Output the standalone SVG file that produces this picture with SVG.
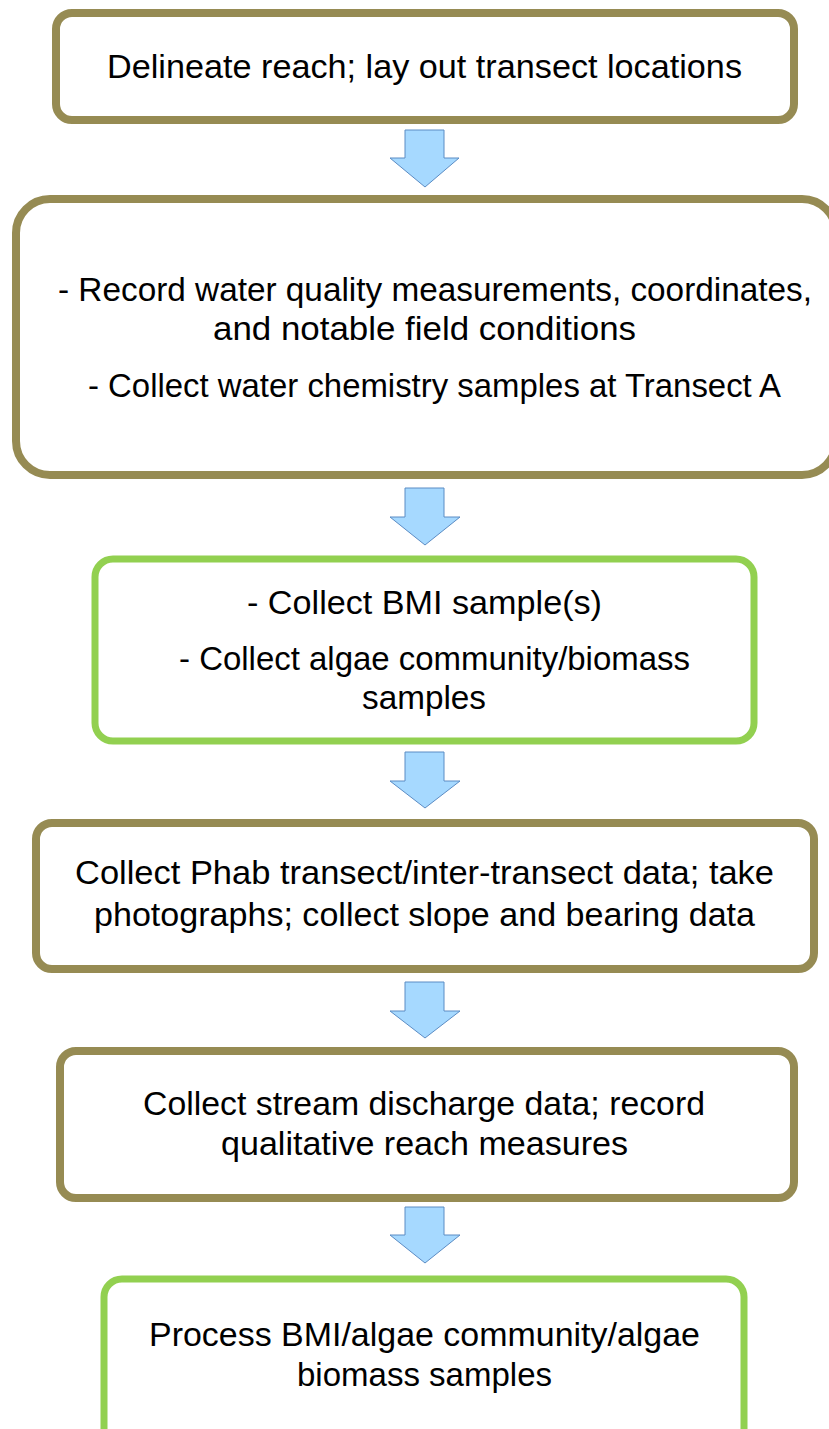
<svg xmlns="http://www.w3.org/2000/svg" width="829" height="1429" viewBox="0 0 829 1429">
  <style>
    .olive { fill: #ffffff; stroke: #968b53; stroke-width: 8; }
    .green { fill: #ffffff; stroke: #92d050; stroke-width: 7; }
    .arrow { fill: #a6d9ff; stroke: #5b8cc4; stroke-width: 1; }
    text { font-family: "Liberation Sans", Arial, sans-serif; font-size: 34px; fill: #000000; text-anchor: middle; }
  </style>
  <rect width="829" height="1429" fill="#ffffff"/>

  <g id="connectors">
    <path class="arrow" d="M405,130 H444 V158 H459 L425,187 L390,158 H405 Z"/>
    <path class="arrow" d="M405,488 H444 V517 H460 L425,545 L390,517 H405 Z"/>
    <path class="arrow" d="M405,752 H444 V781 H460 L425,808 L390,781 H405 Z"/>
    <path class="arrow" d="M405,982 H444 V1011 H460 L425,1038 L390,1011 H405 Z"/>
    <path class="arrow" d="M405,1207 H444 V1235 H460 L425,1263 L390,1235 H405 Z"/>
  </g>

  <g id="node1">
    <rect class="olive" x="56" y="13" width="738" height="107" rx="16"/>
    <text x="424.5" y="78" textLength="635" lengthAdjust="spacingAndGlyphs">Delineate reach; lay out transect locations</text>
  </g>

  <g id="node2">
    <rect class="olive" x="16" y="199" width="820" height="276" rx="34"/>
    <text x="435" y="301" textLength="754" lengthAdjust="spacingAndGlyphs">- Record water quality measurements, coordinates,</text>
    <text x="424.5" y="340" textLength="423" lengthAdjust="spacingAndGlyphs">and notable field conditions</text>
    <text x="434.5" y="397" textLength="693" lengthAdjust="spacingAndGlyphs">- Collect water chemistry samples at Transect A</text>
  </g>

  <g id="node3">
    <rect class="green" x="95" y="559" width="659" height="182" rx="18"/>
    <text x="424.5" y="614" textLength="355" lengthAdjust="spacingAndGlyphs">- Collect BMI sample(s)</text>
    <text x="434.5" y="670" textLength="511" lengthAdjust="spacingAndGlyphs">- Collect algae community/biomass</text>
    <text x="424" y="709" textLength="124" lengthAdjust="spacingAndGlyphs">samples</text>
  </g>

  <g id="node4">
    <rect class="olive" x="36" y="823" width="778" height="146" rx="16"/>
    <text x="424.5" y="884" textLength="699" lengthAdjust="spacingAndGlyphs">Collect Phab transect/inter-transect data; take</text>
    <text x="424.5" y="926" textLength="661" lengthAdjust="spacingAndGlyphs">photographs; collect slope and bearing data</text>
  </g>

  <g id="node5">
    <rect class="olive" x="60" y="1051" width="734" height="147" rx="16"/>
    <text x="424" y="1115" textLength="562" lengthAdjust="spacingAndGlyphs">Collect stream discharge data; record</text>
    <text x="424.5" y="1155" textLength="407" lengthAdjust="spacingAndGlyphs">qualitative reach measures</text>
  </g>

  <g id="node6">
    <rect class="green" x="104" y="1279" width="640" height="170" rx="18"/>
    <text x="424.5" y="1346" textLength="551" lengthAdjust="spacingAndGlyphs">Process BMI/algae community/algae</text>
    <text x="424.5" y="1386" textLength="255" lengthAdjust="spacingAndGlyphs">biomass samples</text>
  </g>
</svg>
